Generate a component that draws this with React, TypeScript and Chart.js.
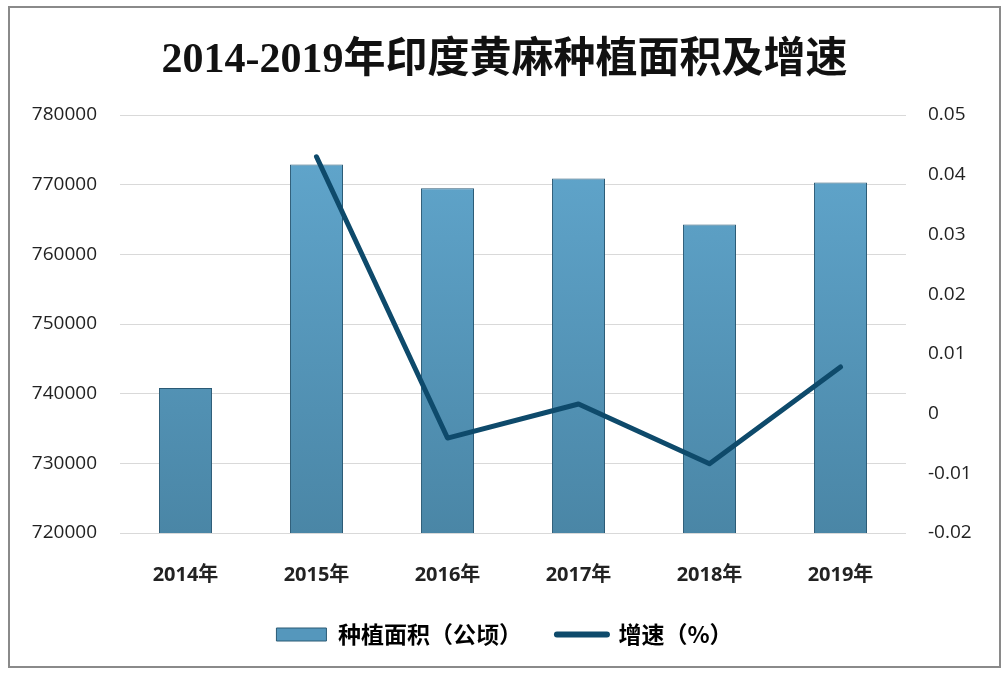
import React, { useEffect, useRef } from "react";
import { Chart, registerables } from "chart.js";

Chart.register(...registerables);

const titleText = "2014-2019年印度黄麻种植面积及增速";
const categories = ["2014年", "2015年", "2016年", "2017年", "2018年", "2019年"];
const areaValues = [740800, 772900, 769500, 770900, 764300, 770300];
const growthValues: (number | null)[] = [null, 0.043, -0.0041, 0.0016, -0.0084, 0.0078];
const areaLabel = "种植面积（公顷）";
const growthLabel = "增速（%）";

const W = 989;
const H = 658;

export default function App() {
  const ref = useRef<HTMLCanvasElement | null>(null);

  useEffect(() => {
    if (!ref.current) return;
    const chart = new Chart(ref.current, {
      type: "bar",
      data: {
        labels: categories,
        datasets: [
          {
            type: "line",
            label: growthLabel,
            data: growthValues,
            yAxisID: "y1",
            borderColor: "#0e4a6b",
            backgroundColor: "#0e4a6b",
            borderWidth: 5,
            pointRadius: 0,
            pointHoverRadius: 0,
            borderCapStyle: "round",
            borderJoinStyle: "round",
            tension: 0,
            order: 0,
          } as any,
          {
            type: "bar",
            label: areaLabel,
            data: areaValues,
            yAxisID: "y",
            backgroundColor: (ctx: any) => {
              const area = ctx.chart.chartArea;
              if (!area) return "#5597bc";
              const g = ctx.chart.ctx.createLinearGradient(0, area.top, 0, area.bottom);
              g.addColorStop(0, "#62a8cf");
              g.addColorStop(1, "#4a86a6");
              return g;
            },
            borderColor: "#2b5a75",
            borderWidth: 1,
            categoryPercentage: 1,
            barPercentage: 0.405,
            order: 1,
          } as any,
        ],
      },
      options: {
        animation: false,
        responsive: false,
        devicePixelRatio: 1,
        layout: { padding: { top: 107, left: 0, right: 0, bottom: 10 } },
        plugins: {
          title: { display: false },
          tooltip: { enabled: false },
          legend: {
            display: true,
            position: "bottom",
            labels: {
              padding: 35,
              usePointStyle: true,
              pointStyleWidth: 50,
              boxHeight: 13,
              color: "#222",
              font: { family: "'Noto Sans CJK SC', 'Noto Sans', sans-serif", size: 23, weight: "bold" },
              generateLabels: () => [
                {
                  text: areaLabel,
                  fillStyle: "#5597bc",
                  strokeStyle: "#2b5a75",
                  lineWidth: 1,
                  pointStyle: "rect",
                  datasetIndex: 1,
                  hidden: false,
                },
                {
                  text: growthLabel,
                  fillStyle: "#0e4a6b",
                  strokeStyle: "#0e4a6b",
                  lineWidth: 6,
                  lineCap: "round",
                  pointStyle: "line",
                  datasetIndex: 0,
                  hidden: false,
                } as any,
              ],
            },
          },
        },
        scales: {
          x: {
            grid: { display: false, drawTicks: false },
            border: { display: false },
            ticks: {
              padding: 30,
              color: "#222",
              font: { family: "'Open Sans', 'Noto Sans CJK SC', sans-serif", size: 20, weight: "bold" },
            },
            afterFit: (s: any) => {
              s.height = 55;
            },
          },
          y: {
            position: "left",
            min: 720000,
            max: 780000,
            ticks: {
              stepSize: 10000,
              padding: 23,
              color: "#222",
              font: { family: "'Open Sans', sans-serif", size: 19 },
              callback: (v: any) => String(v),
            },
            grid: { color: "#d9d9d9", lineWidth: 1, drawTicks: false },
            border: { display: false },
            afterFit: (s: any) => {
              s.width = 110;
            },
          },
          y1: {
            position: "right",
            min: -0.02,
            max: 0.05,
            ticks: {
              stepSize: 0.01,
              padding: 22,
              color: "#222",
              font: { family: "'Open Sans', sans-serif", size: 19 },
              callback: (v: any) => String(Number(Number(v).toFixed(2))),
            },
            grid: { display: false, drawTicks: false },
            border: { display: false },
            afterFit: (s: any) => {
              s.width = 93;
            },
          },
        },
      },
    });
    return () => chart.destroy();
  }, []);

  return (
    <div
      style={{
        position: "absolute",
        left: 8,
        top: 6,
        width: W,
        height: H,
        border: "2px solid #8a8a8a",
        background: "#fff",
      }}
    >
      <div
        style={{
          position: "absolute",
          left: 0,
          top: 26,
          width: W,
          height: 48,
          lineHeight: "48px",
          textAlign: "center",
          fontFamily: "'Liberation Serif', 'Noto Sans CJK SC', serif",
          fontSize: 42,
          fontWeight: "bold",
          color: "#111",
          zIndex: 1,
        }}
      >
        {titleText}
      </div>
      <canvas ref={ref} width={W} height={H} style={{ position: "absolute", left: 0, top: 0 }} />
    </div>
  );
}
